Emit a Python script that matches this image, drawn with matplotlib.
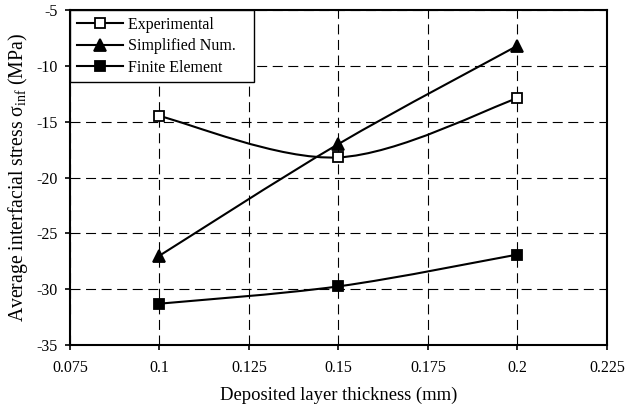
import matplotlib
matplotlib.use("Agg")
import matplotlib.pyplot as plt
import numpy as np
from matplotlib.path import Path
from matplotlib.patches import PathPatch
from matplotlib.lines import Line2D

plt.rcParams['font.family'] = ['Liberation Serif', 'DejaVu Serif']
plt.rcParams['mathtext.fontset'] = 'custom'
plt.rcParams['mathtext.rm'] = 'Liberation Serif'
plt.rcParams['mathtext.it'] = 'Liberation Serif:italic'
plt.rcParams['axes.unicode_minus'] = False

thickness = [0.1, 0.15, 0.2]
experimental = [-14.5, -18.2, -12.9]
simplified_num = [-27.0, -17.0, -8.2]
finite_element = [-31.3, -29.75, -26.9]
x_ticks = [0.075, 0.1, 0.125, 0.15, 0.175, 0.2, 0.225]
x_tick_labels = ['0.075', '0.1', '0.125', '0.15', '0.175', '0.2', '0.225']
y_ticks = [-35, -30, -25, -20, -15, -10, -5]


def smooth_path(xs, ys):
    # Excel-style smoothed line: Catmull-Rom through the points as cubic Beziers
    pts = np.column_stack([xs, ys])
    n = len(pts)
    verts = [pts[0]]
    codes = [Path.MOVETO]
    for i in range(n - 1):
        p0 = pts[max(i - 1, 0)]
        p1 = pts[i]
        p2 = pts[i + 1]
        p3 = pts[min(i + 2, n - 1)]
        verts += [p1 + (p2 - p0) / 6, p2 - (p3 - p1) / 6, p2]
        codes += [Path.CURVE4] * 3
    return Path(verts, codes)


fig = plt.figure(figsize=(6.25, 4.09), dpi=100)
ax = fig.add_axes([0.112, 0.1565, 0.859, 0.819])

series = [
    (experimental, 's', 'white', 6.5, 'Experimental'),
    (simplified_num, '^', 'black', 8.5, 'Simplified Num.'),
    (finite_element, 's', 'black', 7, 'Finite Element'),
]
handles = []
for ys, mk, mfc, ms, name in series:
    ax.add_patch(PathPatch(smooth_path(thickness, ys), fill=False, edgecolor='black',
                           lw=1.5, zorder=3))
    ax.plot(thickness, ys, linestyle='none', marker=mk, markersize=ms,
            markerfacecolor=mfc, markeredgecolor='black', markeredgewidth=1.3, zorder=4)
    handles.append(Line2D([], [], color='black', lw=1.5, marker=mk, markersize=ms,
                          markerfacecolor=mfc, markeredgecolor='black',
                          markeredgewidth=1.3, label=name + '   '))

ax.set_xlim(0.075, 0.225)
ax.set_ylim(-35, -5)
ax.set_xticks(x_ticks)
ax.set_xticklabels(x_tick_labels)
ax.set_yticks(y_ticks)
ax.tick_params(axis='both', labelsize=11.5, direction='out', length=3.6, width=1.2,
               color='black')
ax.tick_params(axis='x', pad=7)
ax.tick_params(axis='y', pad=5)
ax.grid(True, color='black', linestyle=(0, (9, 5)), linewidth=0.8)
for s in ax.spines.values():
    s.set_linewidth(1.5)
    s.set_color('black')

ax.set_xlabel('Deposited layer thickness (mm)', fontsize=13.4, labelpad=8)
ax.set_ylabel(r'Average interfacial stress σ$_{\mathrm{inf}}$ (MPa)', fontsize=14.2,
              labelpad=5)

leg = ax.legend(handles=handles, loc='upper left', fontsize=11.5, frameon=True,
                fancybox=False, framealpha=1, edgecolor='black', borderaxespad=0,
                handlelength=2.9, handletextpad=0.3, labelspacing=0.34,
                borderpad=0.42)
leg.get_frame().set_linewidth(1.0)

fig.savefig('out.png', dpi=100)
